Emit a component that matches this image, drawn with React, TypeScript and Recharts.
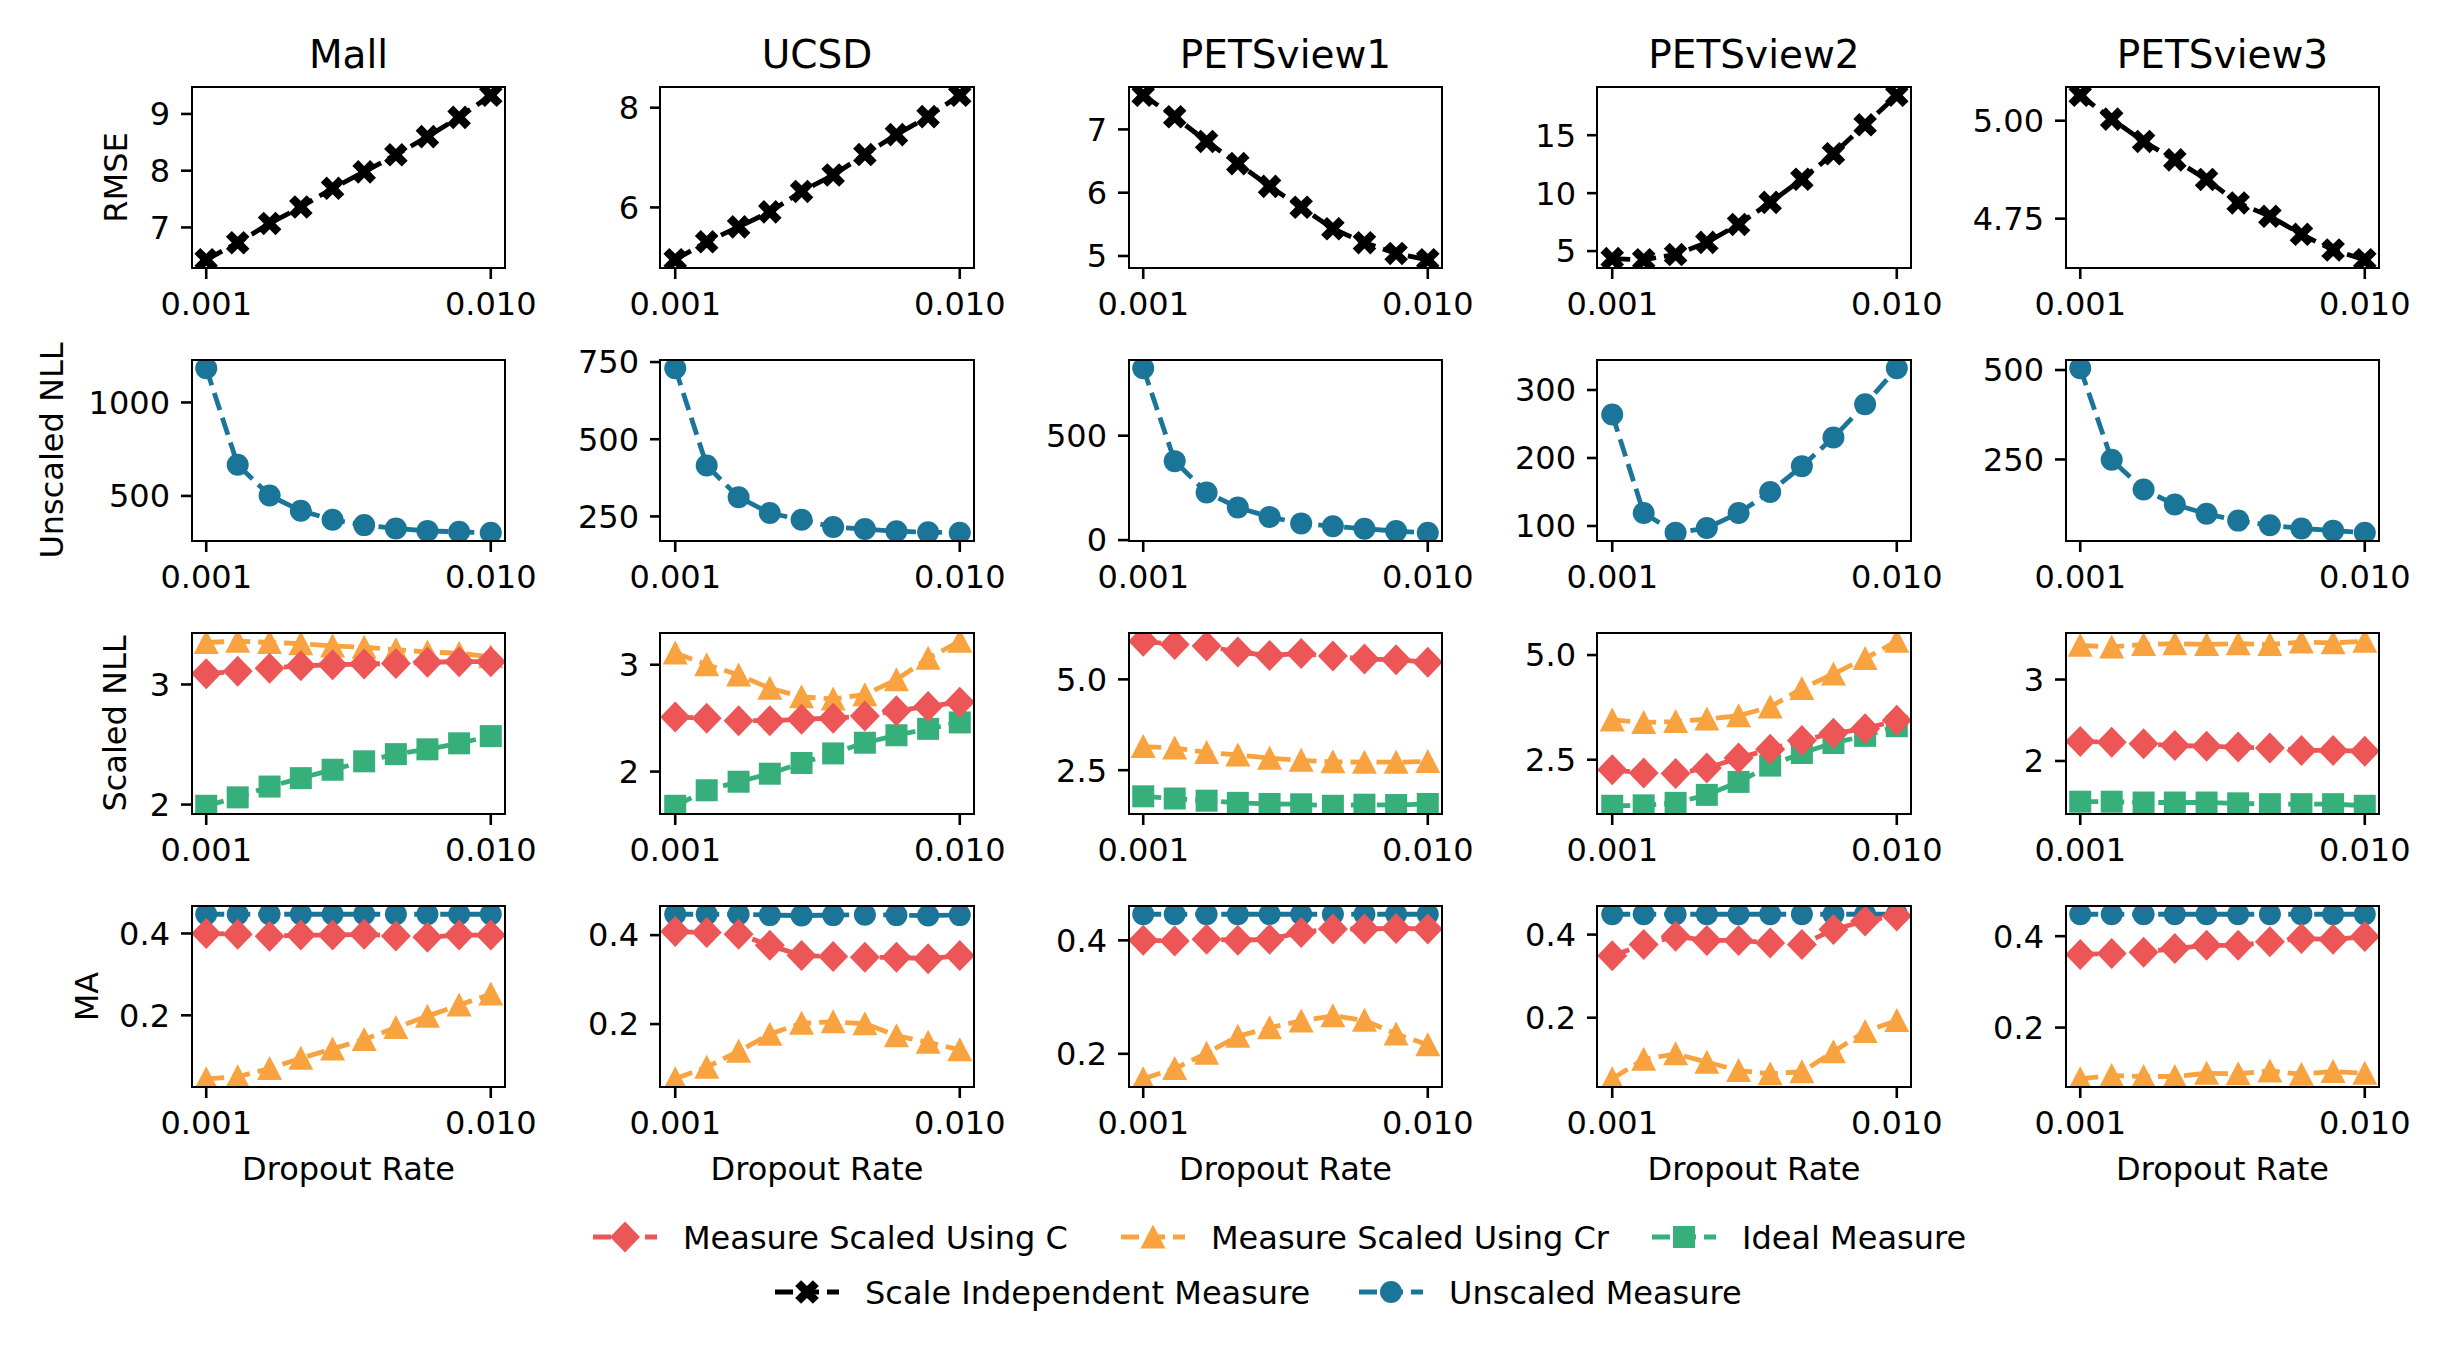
import React from "react";
import { LineChart, Line, XAxis, YAxis } from "recharts";

const FONT = "DejaVu Sans, sans-serif";

const DROPOUT = [0.001, 0.00129, 0.00167, 0.00215, 0.00278, 0.00359, 0.00464, 0.00599, 0.00774, 0.01];
const DATASETS = ["Mall", "UCSD", "PETSview1", "PETSview2", "PETSview3"];
const METRICS = ["RMSE", "Unscaled NLL", "Scaled NLL", "MA"];

// RMSE, scale independent
const MALL_RMSE = [6.43, 6.73, 7.07, 7.36, 7.69, 7.98, 8.28, 8.6, 8.94, 9.33];
const UCSD_RMSE = [4.95, 5.31, 5.61, 5.91, 6.32, 6.65, 7.06, 7.46, 7.82, 8.25];
const PETS1_RMSE = [7.54, 7.2, 6.81, 6.46, 6.1, 5.77, 5.43, 5.21, 5.04, 4.94];
const PETS2_RMSE = [4.35, 4.25, 4.7, 5.75, 7.3, 9.2, 11.2, 13.4, 15.9, 18.45];
const PETS3_RMSE = [5.065, 5.004, 4.947, 4.9, 4.85, 4.79, 4.756, 4.71, 4.67, 4.645];

// unscaled NLL
const MALL_NLL = [1183, 667, 502, 421, 373, 344, 326, 313, 308, 303];
const UCSD_NLL = [730, 415, 312, 261, 239, 216, 209, 202, 199, 197];
const PETS1_NLL = [823, 378, 228, 156, 111, 80, 66, 54, 43, 35];
const PETS2_NLL = [264, 119, 90, 97, 119, 150, 188, 230, 279, 332];
const PETS3_NLL = [505, 249, 166, 124, 98, 79, 66, 57, 51, 45];

// scaled NLL: using C, using Cr, ideal
const MALL_SNLL_C = [3.09, 3.11, 3.135, 3.155, 3.165, 3.17, 3.175, 3.185, 3.19, 3.19];
const MALL_SNLL_CR = [3.35, 3.36, 3.35, 3.34, 3.32, 3.31, 3.29, 3.27, 3.26, 3.23];
const MALL_SNLL_IDEAL = [1.99, 2.06, 2.15, 2.22, 2.29, 2.36, 2.42, 2.46, 2.51, 2.57];
const UCSD_SNLL_C = [2.51, 2.5, 2.476, 2.476, 2.49, 2.5, 2.52, 2.57, 2.61, 2.65];
const UCSD_SNLL_CR = [3.11, 3.0, 2.905, 2.78, 2.7, 2.68, 2.72, 2.86, 3.06, 3.22];
const UCSD_SNLL_IDEAL = [1.68, 1.825, 1.905, 1.98, 2.08, 2.17, 2.27, 2.34, 2.4, 2.46];
const PETS1_SNLL_C = [6.05, 5.96, 5.92, 5.75, 5.66, 5.71, 5.64, 5.56, 5.54, 5.47];
const PETS1_SNLL_CR = [3.15, 3.11, 2.99, 2.92, 2.83, 2.77, 2.73, 2.72, 2.72, 2.74];
const PETS1_SNLL_IDEAL = [1.78, 1.72, 1.66, 1.6, 1.57, 1.56, 1.52, 1.55, 1.54, 1.57];
const PETS2_SNLL_C = [2.26, 2.18, 2.17, 2.3, 2.54, 2.75, 2.96, 3.13, 3.24, 3.44];
const PETS2_SNLL_CR = [3.45, 3.39, 3.41, 3.47, 3.55, 3.76, 4.2, 4.55, 4.92, 5.33];
const PETS2_SNLL_IDEAL = [1.4, 1.41, 1.47, 1.66, 1.97, 2.36, 2.66, 2.9, 3.07, 3.3];
const PETS3_SNLL_C = [2.24, 2.23, 2.21, 2.19, 2.18, 2.17, 2.16, 2.13, 2.13, 2.12];
const PETS3_SNLL_CR = [3.42, 3.4, 3.43, 3.44, 3.43, 3.44, 3.43, 3.46, 3.45, 3.47];
const PETS3_SNLL_IDEAL = [1.5, 1.5, 1.49, 1.49, 1.49, 1.48, 1.47, 1.47, 1.47, 1.45];

// MA: using C, using Cr, unscaled
const MALL_MA_C = [0.4, 0.398, 0.393, 0.396, 0.396, 0.398, 0.394, 0.391, 0.396, 0.396];
const MALL_MA_CR = [0.045, 0.05, 0.07, 0.095, 0.118, 0.141, 0.17, 0.198, 0.225, 0.252];
const MALL_MA_UN = [0.447, 0.447, 0.447, 0.447, 0.447, 0.447, 0.447, 0.447, 0.447, 0.447];
const UCSD_MA_C = [0.408, 0.406, 0.402, 0.377, 0.354, 0.352, 0.35, 0.35, 0.347, 0.354];
const UCSD_MA_CR = [0.077, 0.103, 0.139, 0.177, 0.202, 0.205, 0.201, 0.174, 0.159, 0.142];
const UCSD_MA_UN = [0.447, 0.447, 0.447, 0.445, 0.444, 0.445, 0.446, 0.445, 0.444, 0.445];
const PETS1_MA_C = [0.4, 0.399, 0.402, 0.4, 0.402, 0.414, 0.42, 0.42, 0.421, 0.42];
const PETS1_MA_CR = [0.156, 0.174, 0.201, 0.231, 0.246, 0.258, 0.267, 0.259, 0.235, 0.216];
const PETS1_MA_UN = [0.446, 0.446, 0.446, 0.446, 0.446, 0.446, 0.446, 0.446, 0.446, 0.446];
const PETS2_MA_C = [0.349, 0.376, 0.396, 0.386, 0.386, 0.38, 0.376, 0.412, 0.433, 0.445];
const PETS2_MA_CR = [0.053, 0.1, 0.113, 0.093, 0.073, 0.065, 0.07, 0.118, 0.167, 0.193];
const PETS2_MA_UN = [0.449, 0.449, 0.449, 0.449, 0.449, 0.449, 0.449, 0.449, 0.449, 0.449];
const PETS3_MA_C = [0.36, 0.362, 0.365, 0.373, 0.38, 0.38, 0.388, 0.395, 0.393, 0.399];
const PETS3_MA_CR = [0.088, 0.095, 0.093, 0.093, 0.1, 0.099, 0.105, 0.098, 0.104, 0.1];
const PETS3_MA_UN = [0.448, 0.448, 0.448, 0.448, 0.448, 0.448, 0.448, 0.448, 0.448, 0.448];

// y tick values per row, per dataset
const RMSE_TICKS = [[7, 8, 9], [6, 8], [5, 6, 7], [5, 10, 15], [4.75, 5.0]];
const NLL_TICKS = [[500, 1000], [250, 500, 750], [0, 500], [100, 200, 300], [250, 500]];
const SNLL_TICKS = [[2, 3], [2, 3], [2.5, 5.0], [2.5, 5.0], [2, 3]];
const MA_TICKS = [[0.2, 0.4], [0.2, 0.4], [0.2, 0.4], [0.2, 0.4], [0.2, 0.4]];

type Kind = "unscaled" | "indep" | "ideal" | "cr" | "c";

const SERIES: Record<Kind, { color: string; name: string }> = {
  c: { color: "#ec5656", name: "Measure Scaled Using C" },
  cr: { color: "#f8a33f", name: "Measure Scaled Using Cr" },
  ideal: { color: "#36af7b", name: "Ideal Measure" },
  indep: { color: "#000000", name: "Scale Independent Measure" },
  unscaled: { color: "#1b7599", name: "Unscaled Measure" },
};
const DRAW_ORDER: Kind[] = ["unscaled", "indep", "ideal", "cr", "c"];

type Cell = { series: Partial<Record<Kind, number[]>>; ticks: number[]; dec: number };

const ROWS: Cell[][] = [
  [
    { series: { indep: MALL_RMSE }, ticks: RMSE_TICKS[0], dec: 0 },
    { series: { indep: UCSD_RMSE }, ticks: RMSE_TICKS[1], dec: 0 },
    { series: { indep: PETS1_RMSE }, ticks: RMSE_TICKS[2], dec: 0 },
    { series: { indep: PETS2_RMSE }, ticks: RMSE_TICKS[3], dec: 0 },
    { series: { indep: PETS3_RMSE }, ticks: RMSE_TICKS[4], dec: 2 },
  ],
  [
    { series: { unscaled: MALL_NLL }, ticks: NLL_TICKS[0], dec: 0 },
    { series: { unscaled: UCSD_NLL }, ticks: NLL_TICKS[1], dec: 0 },
    { series: { unscaled: PETS1_NLL }, ticks: NLL_TICKS[2], dec: 0 },
    { series: { unscaled: PETS2_NLL }, ticks: NLL_TICKS[3], dec: 0 },
    { series: { unscaled: PETS3_NLL }, ticks: NLL_TICKS[4], dec: 0 },
  ],
  [
    { series: { c: MALL_SNLL_C, cr: MALL_SNLL_CR, ideal: MALL_SNLL_IDEAL }, ticks: SNLL_TICKS[0], dec: 0 },
    { series: { c: UCSD_SNLL_C, cr: UCSD_SNLL_CR, ideal: UCSD_SNLL_IDEAL }, ticks: SNLL_TICKS[1], dec: 0 },
    { series: { c: PETS1_SNLL_C, cr: PETS1_SNLL_CR, ideal: PETS1_SNLL_IDEAL }, ticks: SNLL_TICKS[2], dec: 1 },
    { series: { c: PETS2_SNLL_C, cr: PETS2_SNLL_CR, ideal: PETS2_SNLL_IDEAL }, ticks: SNLL_TICKS[3], dec: 1 },
    { series: { c: PETS3_SNLL_C, cr: PETS3_SNLL_CR, ideal: PETS3_SNLL_IDEAL }, ticks: SNLL_TICKS[4], dec: 0 },
  ],
  [
    { series: { c: MALL_MA_C, cr: MALL_MA_CR, unscaled: MALL_MA_UN }, ticks: MA_TICKS[0], dec: 1 },
    { series: { c: UCSD_MA_C, cr: UCSD_MA_CR, unscaled: UCSD_MA_UN }, ticks: MA_TICKS[1], dec: 1 },
    { series: { c: PETS1_MA_C, cr: PETS1_MA_CR, unscaled: PETS1_MA_UN }, ticks: MA_TICKS[2], dec: 1 },
    { series: { c: PETS2_MA_C, cr: PETS2_MA_CR, unscaled: PETS2_MA_UN }, ticks: MA_TICKS[3], dec: 1 },
    { series: { c: PETS3_MA_C, cr: PETS3_MA_CR, unscaled: PETS3_MA_UN }, ticks: MA_TICKS[4], dec: 1 },
  ],
];

// layout (px)
const BOX_LEFT = 192;
const BOX_TOP = 87;
const COL_STEP = 468.5;
const ROW_STEP = 273;
const PW = 313;
const PH = 181;
const YW = 130;
const TM = 12;
const RM = 50;
const XH = 64;
const SPINE = 2.6;
const LW = 4.8;
const DASH = "18 8";
const X_DOMAIN = [0.001 / Math.pow(10, 0.05), 0.01 * Math.pow(10, 0.05)];

const YLABEL_X = [115, 51, 114, 86];

const axisTick = { fill: "#000", fontSize: 32, fontFamily: FONT };
const tickLine = { stroke: "#000", strokeWidth: SPINE };

function Marker({ kind, cx, cy }: { kind: Kind; cx: number; cy: number }) {
  if (cx == null || cy == null || isNaN(cx) || isNaN(cy)) return null;
  const c = SERIES[kind].color;
  if (kind === "unscaled") return <circle cx={cx} cy={cy} r={11} fill={c} />;
  if (kind === "ideal") return <rect x={cx - 11} y={cy - 11} width={22} height={22} fill={c} />;
  if (kind === "c")
    return (
      <polygon
        points={`${cx},${cy - 15.5} ${cx + 15},${cy} ${cx},${cy + 15.5} ${cx - 15},${cy}`}
        fill={c}
      />
    );
  if (kind === "cr")
    return (
      <polygon
        points={`${cx},${cy - 12.5} ${cx + 12.5},${cy + 11.5} ${cx - 12.5},${cy + 11.5}`}
        fill={c}
      />
    );
  const k = 5.9;
  const pts = [
    [-1, -2], [0, -1], [1, -2], [2, -1], [1, 0], [2, 1],
    [1, 2], [0, 1], [-1, 2], [-2, 1], [-1, 0], [-2, -1],
  ]
    .map(([a, b]) => `${cx + a * k},${cy + b * k}`)
    .join(" ");
  return <polygon points={pts} fill={c} />;
}

function Panel({ row, col, cell }: { row: number; col: number; cell: Cell }) {
  const left = BOX_LEFT + col * COL_STEP;
  const top = BOX_TOP + row * ROW_STEP;
  const kinds = DRAW_ORDER.filter((k) => cell.series[k]);
  const all = kinds.flatMap((k) => cell.series[k] as number[]);
  const lo = Math.min(...all);
  const hi = Math.max(...all);
  const pad = (hi - lo) * 0.05;
  const data = DROPOUT.map((x, i) => {
    const d: Record<string, number> = { x };
    kinds.forEach((k) => {
      d[k] = (cell.series[k] as number[])[i];
    });
    return d;
  });

  return (
    <>
      <div style={{ position: "absolute", left: left - YW, top: top - TM }}>
        <LineChart
          width={YW + PW + RM}
          height={TM + PH + XH}
          data={data}
          margin={{ top: TM, right: RM, left: 0, bottom: 0 }}
        >
          <XAxis
            dataKey="x"
            type="number"
            scale="log"
            domain={X_DOMAIN}
            allowDataOverflow
            ticks={[0.001, 0.01]}
            interval={0}
            tickFormatter={(v: number) => v.toFixed(3)}
            height={XH}
            axisLine={false}
            tickLine={tickLine}
            tickSize={11}
            tickMargin={13}
            tick={axisTick}
          />
          <YAxis
            type="number"
            domain={[lo - pad, hi + pad]}
            allowDataOverflow
            ticks={cell.ticks}
            interval={0}
            tickFormatter={(v: number) => v.toFixed(cell.dec)}
            width={YW}
            axisLine={false}
            tickLine={tickLine}
            tickSize={11}
            tickMargin={11}
            tick={axisTick}
          />
          {kinds.map((k) => (
            <Line
              key={k}
              dataKey={k}
              stroke={SERIES[k].color}
              strokeWidth={LW}
              strokeDasharray={DASH}
              dot={(p: any) => <Marker key={p.key ?? `${k}-${p.index}`} kind={k} cx={p.cx} cy={p.cy} />}
              activeDot={false}
              isAnimationActive={false}
            />
          ))}
        </LineChart>
      </div>
      <div
        style={{
          position: "absolute",
          left: left - SPINE / 2,
          top: top - SPINE / 2,
          width: PW + SPINE,
          height: PH + SPINE,
          border: `${SPINE}px solid #000`,
          boxSizing: "border-box",
        }}
      />
    </>
  );
}

function LegendItem({ kind, x, y }: { kind: Kind; x: number; y: number }) {
  const c = SERIES[kind].color;
  return (
    <g>
      <line x1={x} y1={y} x2={x + 64} y2={y} stroke={c} strokeWidth={LW} strokeDasharray={DASH} />
      <Marker kind={kind} cx={x + 32} cy={y} />
      <text x={x + 90} y={y + 11.5} fontSize={32} fontFamily={FONT} fill="#000">
        {SERIES[kind].name}
      </text>
    </g>
  );
}

export default function App() {
  return (
    <div
      style={{
        position: "absolute",
        left: 0,
        top: 0,
        width: 2448,
        height: 1348,
        background: "#fff",
        overflow: "hidden",
        fontFamily: FONT,
      }}
    >
      <svg width={2448} height={1348} style={{ position: "absolute", left: 0, top: 0 }}>
        {DATASETS.map((name, c) => (
          <text
            key={name}
            x={BOX_LEFT + c * COL_STEP + PW / 2}
            y={68}
            textAnchor="middle"
            fontSize={39}
            fontFamily={FONT}
            fill="#000"
          >
            {name}
          </text>
        ))}
        {METRICS.map((m, r) => {
          const cy = BOX_TOP + r * ROW_STEP + PH / 2;
          const bx = YLABEL_X[r] + 11.5;
          return (
            <text
              key={m}
              x={bx}
              y={cy}
              transform={`rotate(-90 ${bx} ${cy})`}
              textAnchor="middle"
              fontSize={32}
              fontFamily={FONT}
              fill="#000"
            >
              {m}
            </text>
          );
        })}
        {DATASETS.map((name, c) => (
          <text
            key={`xl-${name}`}
            x={BOX_LEFT + c * COL_STEP + PW / 2}
            y={1180}
            textAnchor="middle"
            fontSize={32}
            fontFamily={FONT}
            fill="#000"
          >
            Dropout Rate
          </text>
        ))}
        <LegendItem kind="c" x={593} y={1237} />
        <LegendItem kind="cr" x={1121} y={1237} />
        <LegendItem kind="ideal" x={1652} y={1237} />
        <LegendItem kind="indep" x={775} y={1292} />
        <LegendItem kind="unscaled" x={1359} y={1292} />
      </svg>
      {ROWS.map((cells, r) =>
        cells.map((cell, c) => <Panel key={`${r}-${c}`} row={r} col={c} cell={cell} />)
      )}
    </div>
  );
}
